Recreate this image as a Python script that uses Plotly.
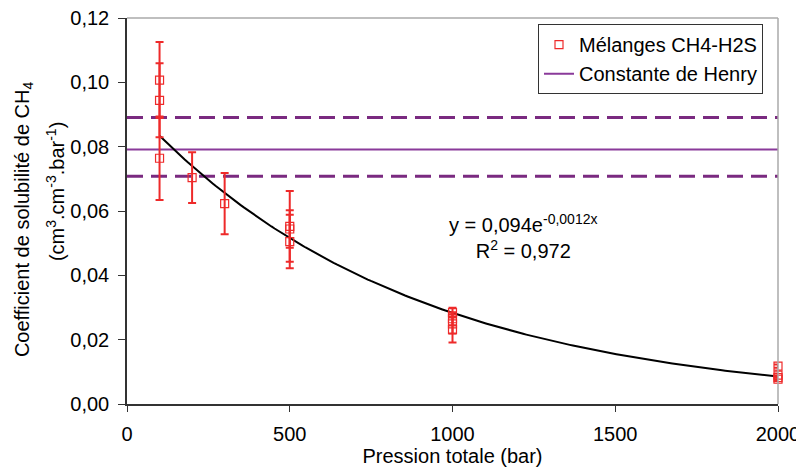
import plotly.graph_objects as go
import numpy as np

# Data
pression = [100, 100, 100, 200, 300, 500, 500, 500, 1000, 1000, 1000, 1000, 2000, 2000, 2000, 2000]
solubilite = [0.1007, 0.0944, 0.0764, 0.0704, 0.0623, 0.0552, 0.0544, 0.0505,
              0.0284, 0.0265, 0.0249, 0.0231, 0.0118, 0.0090, 0.0082, 0.0077]
erreur = [0.0118, 0.0115, 0.0130, 0.0079, 0.0095, 0.0110, 0.0058, 0.0083,
          0.0015, 0.0020, 0.0030, 0.0040, 0.0005, 0.0005, 0.0005, 0.0005]
henry = 0.0791
henry_haut = 0.0891
henry_bas = 0.0708
fit_a = 0.094
fit_b = -0.0012
x_ticks = [0, 500, 1000, 1500, 2000]

red = "#EE2A2A"
purple = "#8A3A9A"
dpurple = "#7A2A80"
font = "Liberation Sans, Arial, sans-serif"

fx = np.linspace(100, 2000, 200)
fy = fit_a * np.exp(fit_b * fx)

# page body has an 8px margin; figure is sized so the plot area lands where the reference has it
W, H = 796, 462
ML, MR, MT, MB = 119, 26, 10, 66
PW = W - ML - MR


def px_to_paper_x(px):
    return (px - 8 - ML) / PW


fig = go.Figure()
fig.add_trace(go.Scatter(x=[0, 2000], y=[henry_haut] * 2, mode="lines",
                         line=dict(color=dpurple, width=3, dash="16px,8px"), showlegend=False))
fig.add_trace(go.Scatter(x=[0, 2000], y=[henry_bas] * 2, mode="lines",
                         line=dict(color=dpurple, width=3, dash="16px,8px"), showlegend=False))
fig.add_trace(go.Scatter(x=[0, 2000], y=[henry] * 2, mode="lines", legendrank=2,
                         line=dict(color=purple, width=2), name="Constante de Henry"))
fig.add_trace(go.Scatter(x=fx, y=fy, mode="lines", line=dict(color="black", width=2),
                         showlegend=False))
fig.add_trace(go.Scatter(x=pression, y=solubilite, mode="markers", name="Mélanges CH4-H2S",
                         legendrank=1, cliponaxis=False,
                         marker=dict(symbol="square-open", size=8, color=red, line=dict(width=1.2, color=red)),
                         error_y=dict(type="data", array=erreur, visible=True, color=red,
                                      thickness=2, width=4)))

fig.add_annotation(x=0.609, y=0.435, xref="paper", yref="paper", showarrow=False,
                   text="y = 0,094e<sup>-0,0012x</sup><br>R<sup>2</sup> = 0,972",
                   font=dict(family=font, size=20, color="black"), align="center")

fig.add_annotation(x=px_to_paper_x(23), y=0.479, xref="paper", yref="paper", showarrow=False,
                   textangle=-90, xanchor="center", yanchor="middle",
                   text="Coefficient de solubilité de CH<sub>4</sub>",
                   font=dict(family=font, size=20, color="black"))
fig.add_annotation(x=px_to_paper_x(55), y=0.549, xref="paper", yref="paper", showarrow=False,
                   textangle=-90, xanchor="center", yanchor="middle",
                   text="(cm<sup>3</sup>.cm<sup>-3</sup>.bar<sup>-1</sup>)",
                   font=dict(family=font, size=20, color="black"))

fig.update_layout(
    width=W, height=H,
    margin=dict(l=ML, r=MR, t=MT, b=MB),
    paper_bgcolor="white", plot_bgcolor="white",
    separators=", ",
    font=dict(family=font, size=20, color="black"),
    legend=dict(x=px_to_paper_x(763), y=0.984, xanchor="right", yanchor="top", bgcolor="white",
                bordercolor="#333333", borderwidth=1, font=dict(size=20),
                itemwidth=30, tracegroupgap=2),
    xaxis=dict(range=[0, 2000], tickvals=x_ticks, showgrid=False, zeroline=False,
               showline=True, linecolor="#333333", linewidth=1.5, ticks="outside",
               ticklen=6, tickcolor="#333333", automargin=False, ticklabelstandoff=5,
               ticklabeloverflow="allow",
               title=dict(text="Pression totale (bar)", standoff=0, font=dict(size=20))),
    yaxis=dict(range=[0, 0.12], dtick=0.02, tickformat=".2f", showgrid=False, zeroline=False,
               showline=True, linecolor="#333333", linewidth=1.5, ticks="outside",
               ticklen=7, tickcolor="#333333", automargin=False, ticklabelstandoff=5,
               ticklabeloverflow="allow"),
    shapes=[
        dict(type="line", xref="paper", yref="paper", x0=0, x1=1, y0=1, y1=1,
             line=dict(color="#AAAAAA", width=1.5)),
        dict(type="line", xref="paper", yref="paper", x0=1, x1=1, y0=0, y1=1,
             line=dict(color="#AAAAAA", width=1.5)),
    ],
)

fig.write_html("out.html")
